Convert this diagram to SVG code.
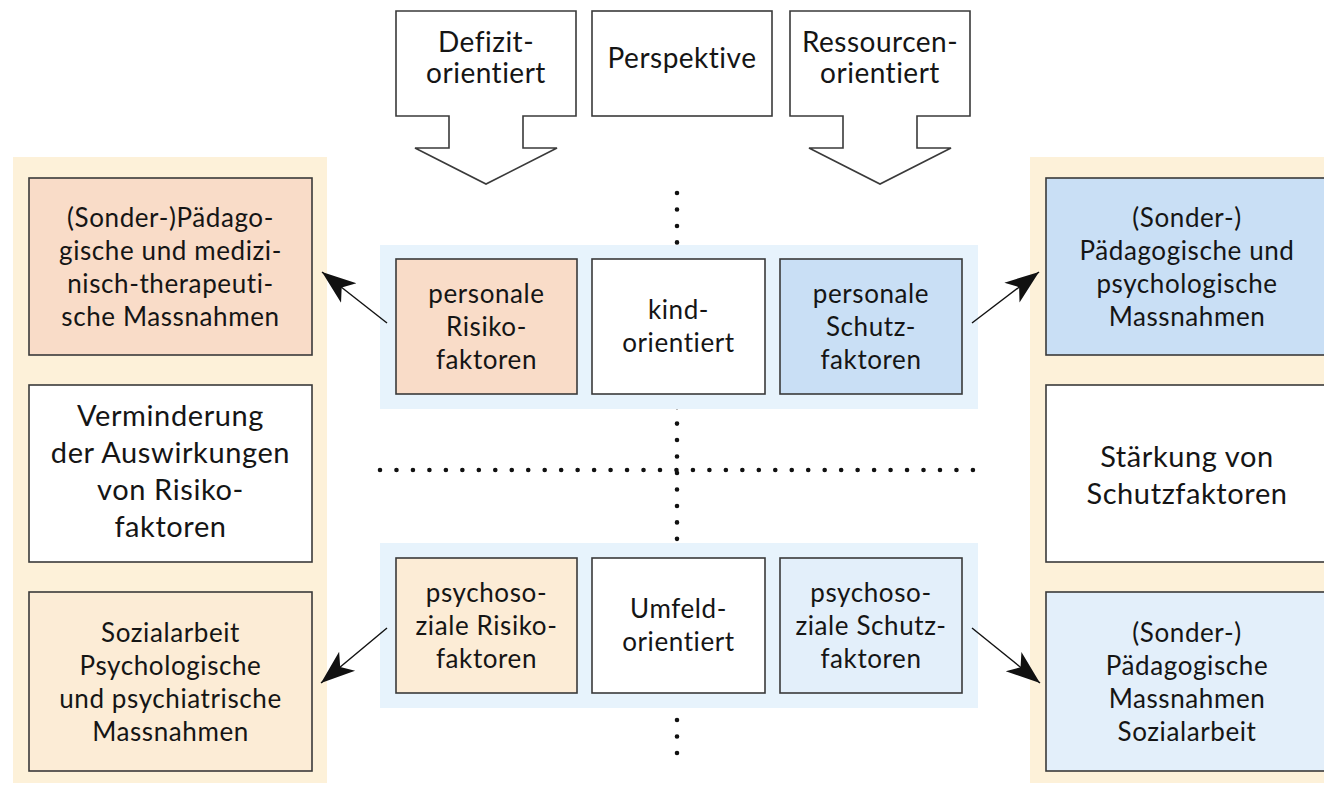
<svg xmlns="http://www.w3.org/2000/svg" width="1324" height="785" viewBox="0 0 1324 785">
<style>
  .bx { stroke: #3a3a3a; stroke-width: 1.6; }
  .ol { fill: #ffffff; stroke: #3a3a3a; stroke-width: 1.6; }
  text { font-family: Lato, "Open Sans", "Noto Sans", sans-serif; fill: #151515; text-anchor: middle; }
  .s { font-size: 26px; letter-spacing: 0.6px; }
  .b { font-size: 29px; letter-spacing: 0.6px; }
  .t { font-size: 28px; letter-spacing: 0.5px; }
  .dots { stroke: #111; stroke-width: 4.6; stroke-linecap: round; stroke-dasharray: 0 16.47; fill: none; }
  .cn { stroke: #111; stroke-width: 1.4; fill: none; }
</style>
<defs>
  <marker id="ah" markerWidth="36" markerHeight="28" refX="34" refY="14" orient="auto" markerUnits="userSpaceOnUse">
    <path d="M34,14 L0,1.5 L9,14 L0,26.5 Z" fill="#111"/>
  </marker>
</defs>
<rect width="1324" height="785" fill="#ffffff"/>

<!-- side panels -->
<rect x="13" y="157" width="314" height="626" fill="#fdf1d9"/>
<rect x="1030" y="157" width="310" height="626" fill="#fdf1d9"/>

<!-- dotted guides -->
<g id="guides">
  <line class="dots" x1="677" y1="193" x2="677" y2="754"/>
  <line class="dots" x1="380" y1="470" x2="978" y2="470"/>
</g>

<!-- top perspective arrows -->
<g id="defizit">
  <path class="ol" d="M396,11 H576 V116 H523 V148 H557 L486,184 L415,148 H449 V116 H396 Z"/>
  <text class="t" x="486" y="52">Defizit-</text>
  <text class="t" x="486" y="83">orientiert</text>
</g>
<g id="perspektive">
  <rect class="ol" x="592" y="11" width="180" height="105"/>
  <text class="t" x="682" y="68">Perspektive</text>
</g>
<g id="ressourcen">
  <path class="ol" d="M790,11 H970 V116 H917 V148 H951 L880,184 L809,148 H843 V116 H790 Z"/>
  <text class="t" x="880" y="52">Ressourcen-</text>
  <text class="t" x="880" y="83">orientiert</text>
</g>

<!-- middle bands -->
<g id="band-kind">
  <rect x="380" y="245" width="598" height="164" fill="#e7f3fc"/>
</g>
<g id="personale-risiko">
  <rect class="bx" x="396" y="259" width="181" height="135" fill="#f9dcc8"/>
  <text class="s" x="486.5" y="303">personale</text>
  <text class="s" x="486.5" y="336">Risiko-</text>
  <text class="s" x="486.5" y="369">faktoren</text>
</g>
<g id="kindorientiert">
  <rect class="bx" x="592" y="259" width="173" height="135" fill="#ffffff"/>
  <text class="s" x="678.5" y="319">kind-</text>
  <text class="s" x="678.5" y="352">orientiert</text>
</g>
<g id="personale-schutz">
  <rect class="bx" x="780" y="259" width="182" height="135" fill="#c9dff5"/>
  <text class="s" x="871" y="303">personale</text>
  <text class="s" x="871" y="336">Schutz-</text>
  <text class="s" x="871" y="369">faktoren</text>
</g>

<g id="band-umfeld">
  <rect x="380" y="543" width="598" height="165" fill="#e7f3fc"/>
</g>
<g id="psychosozial-risiko">
  <rect class="bx" x="396" y="558" width="181" height="135" fill="#fcecd6"/>
  <text class="s" x="486.5" y="602">psychoso-</text>
  <text class="s" x="486.5" y="635">ziale Risiko-</text>
  <text class="s" x="486.5" y="668">faktoren</text>
</g>
<g id="umfeldorientiert">
  <rect class="bx" x="592" y="558" width="173" height="135" fill="#ffffff"/>
  <text class="s" x="678.5" y="618">Umfeld-</text>
  <text class="s" x="678.5" y="651">orientiert</text>
</g>
<g id="psychosozial-schutz">
  <rect class="bx" x="780" y="558" width="182" height="135" fill="#e3effa"/>
  <text class="s" x="871" y="602">psychoso-</text>
  <text class="s" x="871" y="635">ziale Schutz-</text>
  <text class="s" x="871" y="668">faktoren</text>
</g>

<!-- left column -->
<g id="massnahmen-medizin">
  <rect class="bx" x="29" y="178" width="283" height="177" fill="#f9dcc8"/>
  <text class="s" x="170.5" y="227">(Sonder-)Pädago-</text>
  <text class="s" x="170.5" y="260">gische und medizi-</text>
  <text class="s" x="170.5" y="293">nisch-therapeuti-</text>
  <text class="s" x="170.5" y="326">sche Massnahmen</text>
</g>
<g id="verminderung">
  <rect class="bx" x="29" y="385" width="283" height="177" fill="#ffffff"/>
  <text class="b" x="170.5" y="426">Verminderung</text>
  <text class="b" x="170.5" y="463">der Auswirkungen</text>
  <text class="b" x="170.5" y="500">von Risiko-</text>
  <text class="b" x="170.5" y="537">faktoren</text>
</g>
<g id="massnahmen-sozial">
  <rect class="bx" x="29" y="592" width="283" height="179" fill="#fcecd6"/>
  <text class="s" x="170.5" y="642">Sozialarbeit</text>
  <text class="s" x="170.5" y="675">Psychologische</text>
  <text class="s" x="170.5" y="708">und psychiatrische</text>
  <text class="s" x="170.5" y="741">Massnahmen</text>
</g>

<!-- right column -->
<g id="massnahmen-psych">
  <rect class="bx" x="1046" y="178" width="283" height="177" fill="#c9dff5"/>
  <text class="s" x="1187" y="227">(Sonder-)</text>
  <text class="s" x="1187" y="260">Pädagogische und</text>
  <text class="s" x="1187" y="293">psychologische</text>
  <text class="s" x="1187" y="326">Massnahmen</text>
</g>
<g id="staerkung">
  <rect class="bx" x="1046" y="385" width="283" height="177" fill="#ffffff"/>
  <text class="b" x="1187" y="467">Stärkung von</text>
  <text class="b" x="1187" y="504">Schutzfaktoren</text>
</g>
<g id="massnahmen-paed">
  <rect class="bx" x="1046" y="592" width="283" height="179" fill="#e3effa"/>
  <text class="s" x="1187" y="642">(Sonder-)</text>
  <text class="s" x="1187" y="675">Pädagogische</text>
  <text class="s" x="1187" y="708">Massnahmen</text>
  <text class="s" x="1187" y="741">Sozialarbeit</text>
</g>

<!-- connectors -->
<g id="connectors">
  <line class="cn" x1="387" y1="323" x2="322" y2="272" marker-end="url(#ah)"/>
  <line class="cn" x1="972" y1="323" x2="1039" y2="272" marker-end="url(#ah)"/>
  <line class="cn" x1="387" y1="628" x2="321" y2="683" marker-end="url(#ah)"/>
  <line class="cn" x1="972" y1="628" x2="1040" y2="683" marker-end="url(#ah)"/>
</g>
</svg>
